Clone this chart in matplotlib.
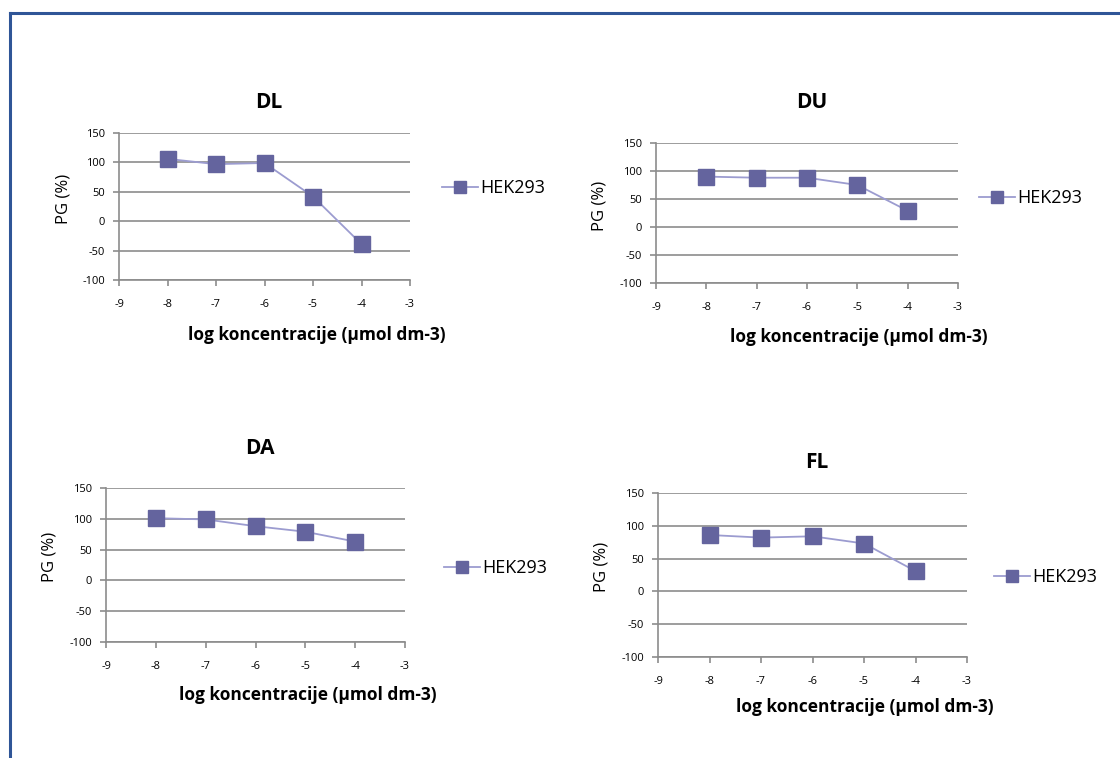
import matplotlib.pyplot as plt
from matplotlib.lines import Line2D

conc = [-8, -7, -6, -5, -4]
titles = ['DL', 'DU', 'DA', 'FL']
pg_dl = [106, 97, 99, 42, -39]
pg_du = [90, 88, 88, 75, 29]
pg_da = [101, 99, 88, 79, 63]
pg_fl = [86, 82, 84, 73, 31]
series_name = 'HEK293'

W, H = 1120, 758
fig = plt.figure(figsize=(W / 100, H / 100), dpi=100)
plt.rcParams['font.family'] = ['Open Sans', 'DejaVu Sans']
plt.rcParams['axes.unicode_minus'] = False

# frame lines (left + top only are visible)
fig.add_artist(Line2D([10 / W, 10 / W], [0, 1 - 13 / H], transform=fig.transFigure,
                      color='#2f5597', linewidth=2.2))
fig.add_artist(Line2D([10 / W, 1], [1 - 13 / H, 1 - 13 / H], transform=fig.transFigure,
                      color='#2f5597', linewidth=2.2))

# pixel boxes: left, right, top, bottom ; legend pos ; title y ; xlabel y
boxes = [
    (119, 410, 133, 280, (458, 188), 103, 335),
    (656, 958, 143, 283, (995, 198), 103, 337),
    (106, 405, 488, 642, (460, 568), 448, 695),
    (658, 967, 493, 657, (1010, 577), 462, 707),
]
data = [pg_dl, pg_du, pg_da, pg_fl]

line_col = '#9c9cd0'
mark_col = '#64649e'
grid_col = '#8c8c8c'

for title, vals, (l, r, t, b, leg, ty, xly) in zip(titles, data, boxes):
    ax = fig.add_axes([l / W, 1 - b / H, (r - l) / W, (b - t) / H])
    ax.plot(conc, vals, color=line_col, linewidth=1.3, marker='s', markersize=11,
            markerfacecolor=mark_col, markeredgecolor=mark_col, zorder=3, clip_on=False)
    ax.set_xlim(-9, -3)
    ax.set_ylim(-100, 150)
    ax.set_xticks(range(-9, -2))
    ax.set_yticks(range(-100, 151, 50))
    ax.yaxis.grid(True, color=grid_col, linewidth=1.2)
    ax.set_axisbelow(True)
    for s in ['top', 'right']:
        ax.spines[s].set_visible(False)
    for s in ['left', 'bottom']:
        ax.spines[s].set_color(grid_col)
        ax.spines[s].set_linewidth(1.2)
    ax.tick_params(axis='both', labelsize=8, color=grid_col, length=4, width=1.2)
    ax.tick_params(axis='x', pad=10)
    ax.tick_params(axis='y', pad=6)
    ax.set_ylabel('PG (%)', fontsize=12)
    ax.yaxis.set_label_coords(-48 / (r - l), 0.55)
    fig.text((l + r) / 2 / W + 0.004, 1 - ty / H, title, ha='center', va='center',
             fontsize=15, fontweight='bold')
    fig.text(((l + r) / 2 + 52) / W, 1 - xly / H, 'log koncentracije (µmol dm-3)',
             ha='center', va='center', fontsize=12.5, fontweight='bold')
    handle = Line2D([], [], color=line_col, linewidth=1.3, marker='s', markersize=9,
                    markerfacecolor=mark_col, markeredgecolor=mark_col)
    fig.legend([handle], [series_name], loc='center left',
               bbox_to_anchor=((leg[0] - 16) / W, 1 - leg[1] / H), frameon=False,
               handlelength=2.0, handletextpad=0.1, fontsize=13, borderaxespad=0,
               borderpad=0)

fig.savefig('out.png', dpi=100)
